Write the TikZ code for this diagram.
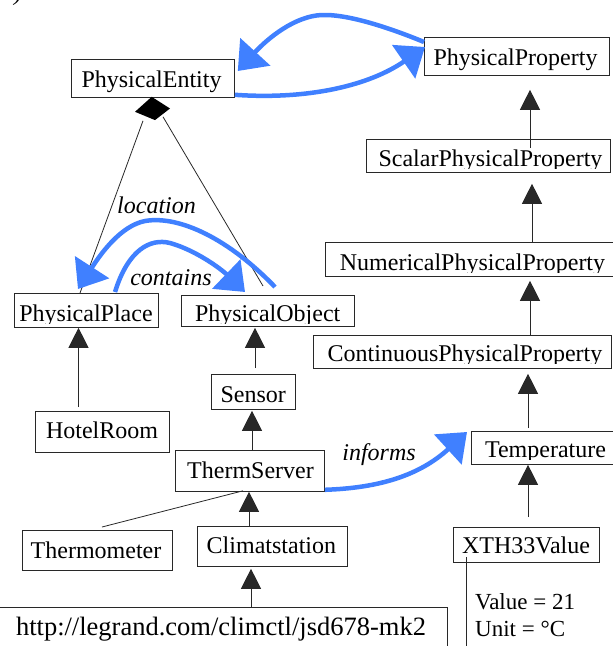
\documentclass[tikz,border=0pt]{standalone}
\usepackage{fontspec}
\setmainfont{Liberation Serif}
\usetikzlibrary{arrows.meta,calc}
\definecolor{assocblue}{RGB}{64,128,255}
\definecolor{edgegray}{RGB}{40,40,40}
\begin{document}
\begin{tikzpicture}[x=1pt,y=-1pt,
  font=\fontsize{24}{28}\selectfont,
  box/.style={draw=edgegray, line width=0.8pt, rectangle, inner sep=0pt, anchor=north west},
  lbl/.style={inner sep=0pt, anchor=base},
  rolelbl/.style={inner sep=0pt, anchor=base, font=\fontsize{24}{28}\selectfont\itshape},
  edge/.style={draw=edgegray, line width=0.8pt},
  gen/.style={edge, -{Triangle[length=20pt,width=20pt]}},
  assoc/.style={draw=assocblue, line width=4.5pt, -{Triangle[length=26pt,width=40pt]}},
]
\useasboundingbox (0,0) rectangle (613,646);
\clip (0,0) rectangle (613,646);

% boxes
\node[box, minimum width=163pt, minimum height=38pt] (pent)   at (71,59)   {};
\node[box, minimum width=185pt, minimum height=38pt] (pprop)  at (424,37)  {};
\node[box, minimum width=244pt, minimum height=33pt] (scalar) at (366,139) {};
\node[box, minimum width=300pt, minimum height=34pt] (numer)  at (325,242) {};
\node[box, minimum width=298pt, minimum height=33pt] (cont)   at (313,335) {};
\node[box, minimum width=144pt, minimum height=34pt] (place)  at (14,293)  {};
\node[box, minimum width=173pt, minimum height=31pt] (pobj)   at (181,295) {};
\node[box, minimum width=134pt, minimum height=41pt] (hotel)  at (35,411)  {};
\node[box, minimum width=84pt,  minimum height=35pt] (sensor) at (211,374) {};
\node[box, minimum width=149pt, minimum height=41pt] (therm)  at (175,450) {};
\node[box, minimum width=150pt, minimum height=40pt] (thermo) at (22,530)  {};
\node[box, minimum width=150pt, minimum height=40pt] (climat) at (197,526) {};
\node[box, minimum width=150pt, minimum height=33pt] (temp)   at (471,431) {};
\node[box, minimum width=146pt, minimum height=35pt] (xth)    at (453,527) {};
\node[box, minimum width=452pt, minimum height=60pt] (url)    at (-5,607)  {};

% texts
\node[lbl] (pent-t)   at (151.5,87)  {PhysicalEntity};
\node[lbl] (pprop-t)  at (515.5,65)  {PhysicalProperty};
\begin{scope}
  \clip (scalar.north west) rectangle ([yshift=4.5pt]scalar.south east);
  \node[lbl] (scalar-t) at (490.5,166) {ScalarPhysicalProperty};
\end{scope}
\begin{scope}
  \clip (numer.north west) rectangle ([yshift=4.5pt]numer.south east);
  \node[lbl] (numer-t) at (472.5,270) {NumericalPhysicalProperty};
\end{scope}
\begin{scope}
  \clip (cont.north west) rectangle ([yshift=5.5pt]cont.south east);
  \node[lbl] (cont-t) at (465,361) {ContinuousPhysicalProperty};
\end{scope}
\begin{scope}
  \clip (place.north west) rectangle ([yshift=4.5pt]place.south east);
  \node[lbl] (place-t) at (86,321) {PhysicalPlace};
\end{scope}
\begin{scope}
  \clip (pobj.north west) rectangle ([yshift=3pt]pobj.south east);
  \node[lbl] (pobj-t) at (267.7,321.5) {PhysicalObject};
\end{scope}
\begin{scope}
  \clip (temp.north west) rectangle ([yshift=5pt]temp.south east);
  \node[lbl] (temp-t) at (545.5,457.5) {Temperature};
\end{scope}
\node[lbl] (hotel-t)  at (102,438.3)   {HotelRoom};
\node[lbl] (sensor-t) at (253.3,402.3) {Sensor};
\node[lbl] (therm-t)  at (250.5,478.3) {ThermServer};
\node[lbl] (thermo-t) at (96,558.3)    {Thermometer};
\node[lbl] (climat-t) at (271.4,553.3) {Climatstation};
\node[lbl] (xth-t)    at (526,553.3)   {XTH33Value};
\node[lbl, font=\fontsize{26.5}{30}\selectfont] (url-t) at (221,635) {http://legrand.com/climctl/jsd678-mk2};
\node[lbl, anchor=base west, font=\fontsize{23}{27}\selectfont] (val1) at (475,609) {Value = 21};
\node[lbl, anchor=base west, font=\fontsize{23}{27}\selectfont] (val2) at (475,636) {Unit = °C};
\node[lbl, font=\fontsize{24}{28}\selectfont\itshape] (paren) at (18,0) {)};

% value line
\coordinate (valend) at (466,650);
\draw[edge] ($(xth.south west)+(13,-6)$) -- (valend);

% generalisations
\draw[gen] ($(scalar.north west)+(164,9)$) -- ($(pprop.south west)+(106,14)$);
\draw[gen] ($(numer.north west)+(207,0)$) -- ($(scalar.south west)+(166,11)$);
\draw[gen] ($(cont.north west)+(217,0)$) -- ($(numer.south west)+(205,4)$);
\draw[gen] ($(temp.north west)+(57,-3)$) -- ($(cont.south west)+(215,5)$);
\draw[gen] ($(xth.north west)+(75,-10)$) -- ($(temp.south west)+(57,0)$);
\draw[gen] ($(sensor.north west)+(44,-6)$) -- ($(pobj.south west)+(74,1)$);
\draw[gen] ($(therm.north west)+(77,0)$) -- ($(sensor.south west)+(41,1)$);
\draw[gen] ($(hotel.north west)+(43.5,-4)$) -- ($(place.south west)+(64.5,0)$);
\draw[edge] ($(thermo.north west)+(80,-3)$) -- ($(therm.south west)+(68,-1)$);
\draw[gen] ($(climat.north west)+(52,0)$) -- ($(therm.south west)+(74,0)$);
\draw[gen] ($(url.north west)+(256,0)$) -- ($(climat.south west)+(54,2)$);

% composition
\coordinate (diam) at ($(pent.south west)+(82,11.5)$);
\fill[black] ($(diam)+(-1.3,-12.5)$) -- ($(diam)+(17,-0.8)$) -- ($(diam)+(2,10.8)$) -- ($(diam)+(-18,2.5)$) -- cycle;
\draw[edge] ($(diam)+(-10,11.5)$) -- ($(place.north west)+(66,0)$);
\draw[edge] ($(diam)+(10,7.5)$) -- ($(pobj.north west)+(82,-9)$);

% associations
\draw[assoc] ($(pprop.north west)+(0,5)$) .. controls (395,30) and (350,14) .. (322,15)
   .. controls (295,16) and (268,38) .. ($(pent.north east)+(3,12)$);
\draw[assoc] ($(pent.south east)+(0,-3)$) .. controls (310,100) and (370,85) .. ($(pprop.north west)+(1,10)$);
\draw[assoc] ($(pobj.north west)+(94,-8)$) .. controls (230,240) and (180,215) .. (145,221)
   .. controls (120,226) and (100,255) .. ($(place.north west)+(64,-4)$);
\draw[assoc] ($(place.north west)+(101,-1)$) .. controls (128,250) and (150,238) .. (170,243)
   .. controls (195,250) and (220,268) .. ($(pobj.north west)+(64,-3)$);
\draw[assoc] ($(therm.south east)+(0,-2)$) .. controls (380,488) and (420,475) .. ($(temp.north west)+(-4,1)$);

% role labels
\node[rolelbl] (loclbl)  at (156.5,213) {location};
\node[rolelbl] (contlbl) at (171,285)   {contains};
\node[rolelbl] (inflbl)  at (379,460)   {informs};
\end{tikzpicture}
\end{document}
